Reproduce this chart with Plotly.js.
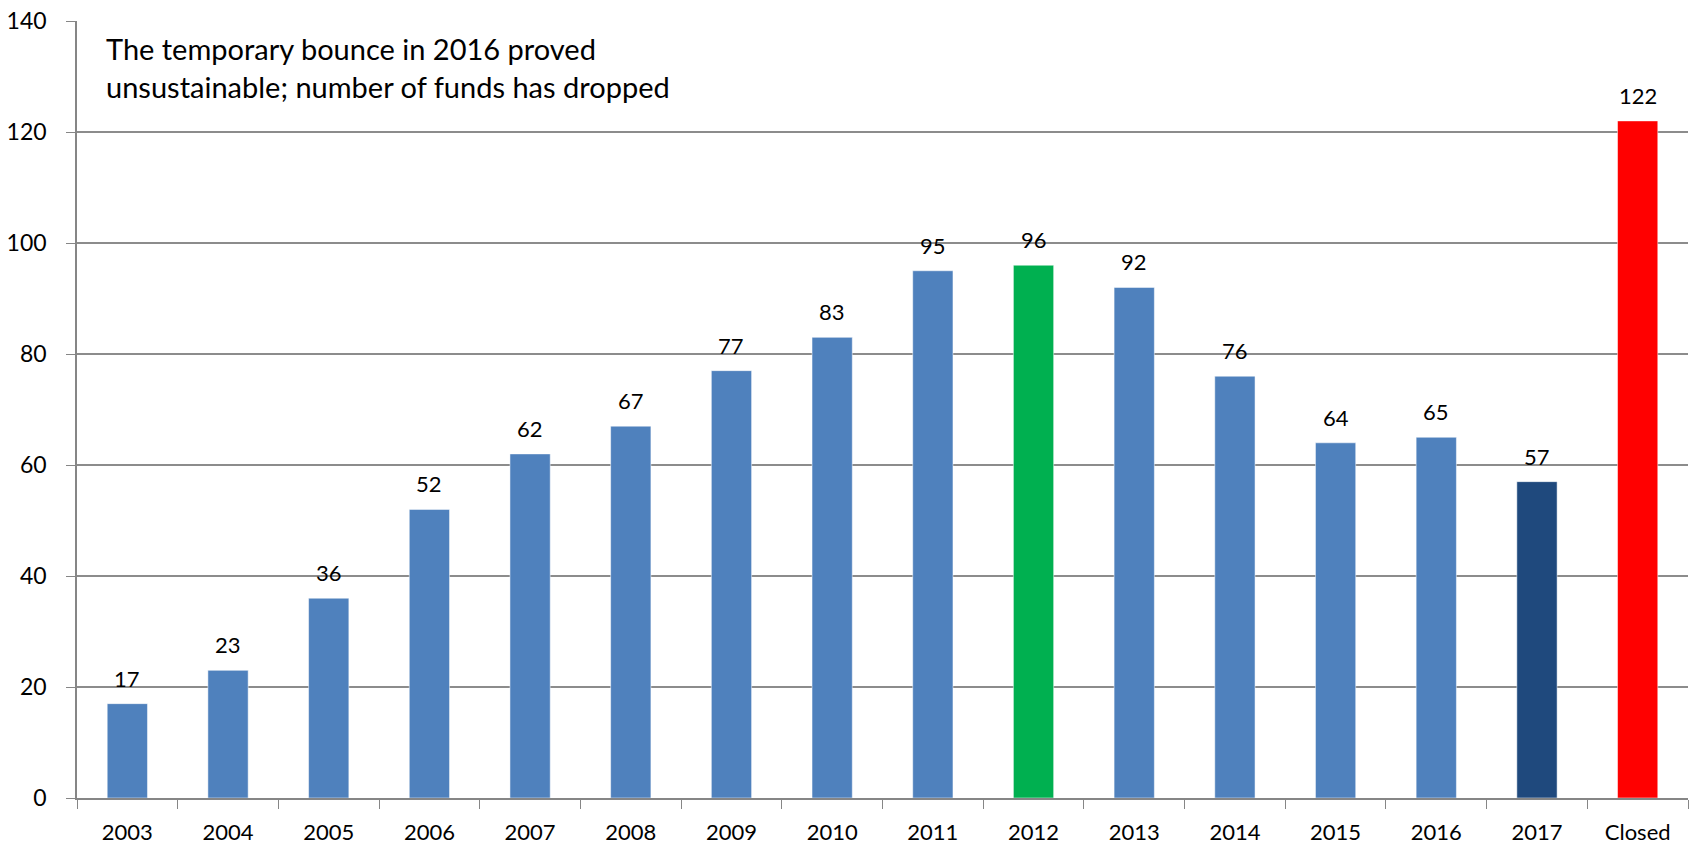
<!DOCTYPE html>
<html><head><meta charset="utf-8">
<script src="https://cdn.plot.ly/plotly-3.0.1.min.js"></script>
<style>html,body{margin:0;padding:0;background:#fff}#chart{width:1694px;height:844px}</style>
</head><body><div id="chart"></div>
<script>
const categories = ["2003","2004","2005","2006","2007","2008","2009","2010","2011","2012","2013","2014","2015","2016","2017","Closed"];
const funds = [17,23,36,52,62,67,77,83,95,96,92,76,64,65,57,122];
const barColors = ["#4F81BD","#4F81BD","#4F81BD","#4F81BD","#4F81BD","#4F81BD","#4F81BD","#4F81BD","#4F81BD","#00B050","#4F81BD","#4F81BD","#4F81BD","#4F81BD","#1F497D","#FF0000"];
const yTicks = [0,20,40,60,80,100,120,140];
const note = "The temporary bounce in 2016 proved<br>unsustainable; number of funds has dropped";

const FONT = "Lato, 'Open Sans', sans-serif";
const trace = {
  type: "bar", x: categories, y: funds,
  marker: {color: barColors, line: {color: "rgba(255,255,255,0.5)", width: 1}},
  width: 0.4, hoverinfo: "x+y"
};
const annotations = categories.map((c, i) => ({
  x: i, y: funds[i], xref: "x", yref: "y", text: String(funds[i]),
  showarrow: false, yanchor: "bottom", yshift: 10,
  font: {family: FONT, size: 22, color: "#000"}
}));
annotations.push({
  xref: "paper", yref: "paper", x: 0.017, y: 0.99, xanchor: "left", yanchor: "top",
  text: note, showarrow: false, align: "left",
  font: {family: FONT, size: 29, color: "#000"}
});
const layout = {
  width: 1694, height: 844,
  margin: {l: 77, r: 6, t: 21, b: 46},
  paper_bgcolor: "#fff", plot_bgcolor: "#fff",
  showlegend: false,
  font: {family: FONT, size: 22, color: "#000"},
  xaxis: {
    type: "category", range: [-0.5, 15.5], tickson: "boundaries", ticks: "outside", ticklen: 9, tickcolor: "#868686",
    showline: true, linecolor: "#868686", linewidth: 1.5, showgrid: false, tickangle: 0,
    ticklabelstandoff: 14,
    tickfont: {family: FONT, size: 22, color: "#000"}
  },
  yaxis: {
    range: [0, 140], tickvals: yTicks, ticks: "outside", ticklen: 9, tickcolor: "#868686",
    showline: true, linecolor: "#868686", linewidth: 1.5, ticklabelstandoff: 15,
    showgrid: true, gridcolor: "#8c8c8c", gridwidth: 1.5, zeroline: false,
    tickfont: {family: FONT, size: 23, color: "#000"}
  },
  annotations: annotations
};
Plotly.newPlot("chart", [trace], layout, {displayModeBar: false});
</script></body></html>
